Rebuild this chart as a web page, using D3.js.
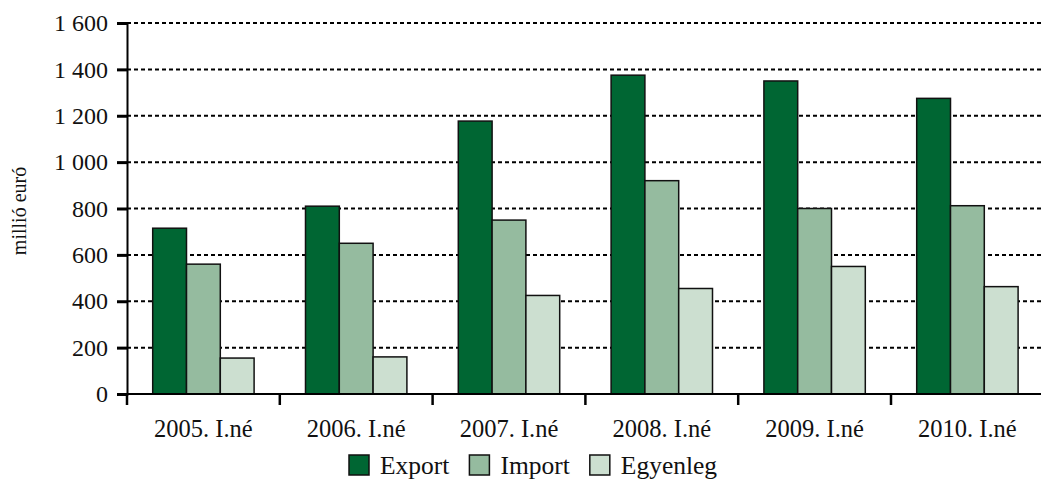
<!DOCTYPE html>
<html><head><meta charset="utf-8">
<script src="https://cdn.jsdelivr.net/npm/d3@7"></script>
<style>body{margin:0;background:#fff}svg{display:block}text{font-family:"Liberation Serif","DejaVu Serif",serif;fill:#111}</style>
</head><body><svg id="c" width="1041" height="488"></svg>
<script>
const categories = ["2005. I.né","2006. I.né","2007. I.né","2008. I.né","2009. I.né","2010. I.né"];
const exportVals = [715, 810, 1177, 1375, 1350, 1275];
const importVals = [560, 650, 750, 920, 800, 812];
const balanceVals = [155, 160, 425, 455, 550, 463];
const seriesNames = ["Export","Import","Egyenleg"];
const seriesColors = ["#006633","#95bb9f","#ccdfd0"];
const yTicks = [0,200,400,600,800,1000,1200,1400,1600];
const yTickLabels = ["0","200","400","600","800","1 000","1 200","1 400","1 600"];
const yTitle = "millió euró";

(function(){
const svg = d3.select("#c");
const left = 127, bottom = 394, topY = 23, band = 152.8;
const y = d3.scaleLinear().domain([0,1600]).range([bottom, topY]);
const x = d3.scaleBand().domain(categories).range([left, left + band*categories.length]);
const x1 = d3.scaleBand().domain(seriesNames).range([25.7, band-25.7]);
const color = d3.scaleOrdinal().domain(seriesNames).range(seriesColors);
const seriesVals = [exportVals, importVals, balanceVals];

// gridlines
svg.append("g").selectAll("line").data(yTicks.filter(d=>d>0)).join("line")
  .attr("x1", left).attr("x2", 1041).attr("y1", d=>y(d)).attr("y2", d=>y(d))
  .attr("stroke","#000").attr("stroke-width",2).attr("stroke-dasharray","4,3");

// bars
const g = svg.append("g").selectAll("g").data(categories).join("g")
  .attr("transform", d=>`translate(${x(d)},0)`);
g.selectAll("rect").data((d,i)=>seriesNames.map((s,j)=>({s, v: seriesVals[j][i]}))).join("rect")
  .attr("x", d=>x1(d.s)).attr("width", x1.bandwidth())
  .attr("y", d=>y(d.v)).attr("height", d=>bottom - y(d.v))
  .attr("fill", d=>color(d.s)).attr("stroke","#111").attr("stroke-width",1.5);

// y axis
const ya = svg.append("g").attr("transform",`translate(${left},0)`)
  .call(d3.axisLeft(y).tickValues(yTicks).tickFormat((d,i)=>yTickLabels[i]).tickSize(10).tickPadding(9));
ya.select(".domain").attr("stroke","#000").attr("stroke-width",2);
ya.selectAll(".tick line").attr("stroke","#000").attr("stroke-width",3);
ya.selectAll(".tick text").style("font-size","24px").attr("fill","#111");

// x axis
const xa = svg.append("g").attr("transform",`translate(0,${bottom})`)
  .call(d3.axisBottom(x).tickSize(0).tickPadding(26));
xa.select(".domain").remove();
xa.append("line").attr("x1",left).attr("x2",1041).attr("stroke","#000").attr("stroke-width",2);
xa.selectAll(".tick text").style("font-size","24.5px").attr("fill","#111");
const bounds = categories.map(c=>x(c)).concat([x.range()[1]]);
xa.selectAll("line.b").data(bounds).join("line").attr("class","b")
  .attr("x1",d=>d).attr("x2",d=>d).attr("y1",0).attr("y2",11)
  .attr("stroke","#000").attr("stroke-width",2.5);

// y title
svg.append("text").attr("transform","translate(26,211) rotate(-90)")
  .attr("text-anchor","middle").style("font-size","20px").text(yTitle);

// legend
const lg = svg.append("g");
let cx = 349;
seriesNames.forEach((s,i)=>{
  lg.append("rect").attr("x",cx).attr("y",455).attr("width",20).attr("height",20)
    .attr("fill",color(s)).attr("stroke","#111").attr("stroke-width",1.5);
  const t = lg.append("text").attr("x",cx+31).attr("y",474).style("font-size","25.5px").text(s);
  cx += 31 + t.node().getComputedTextLength() + 20;
});
})();
</script></body></html>
